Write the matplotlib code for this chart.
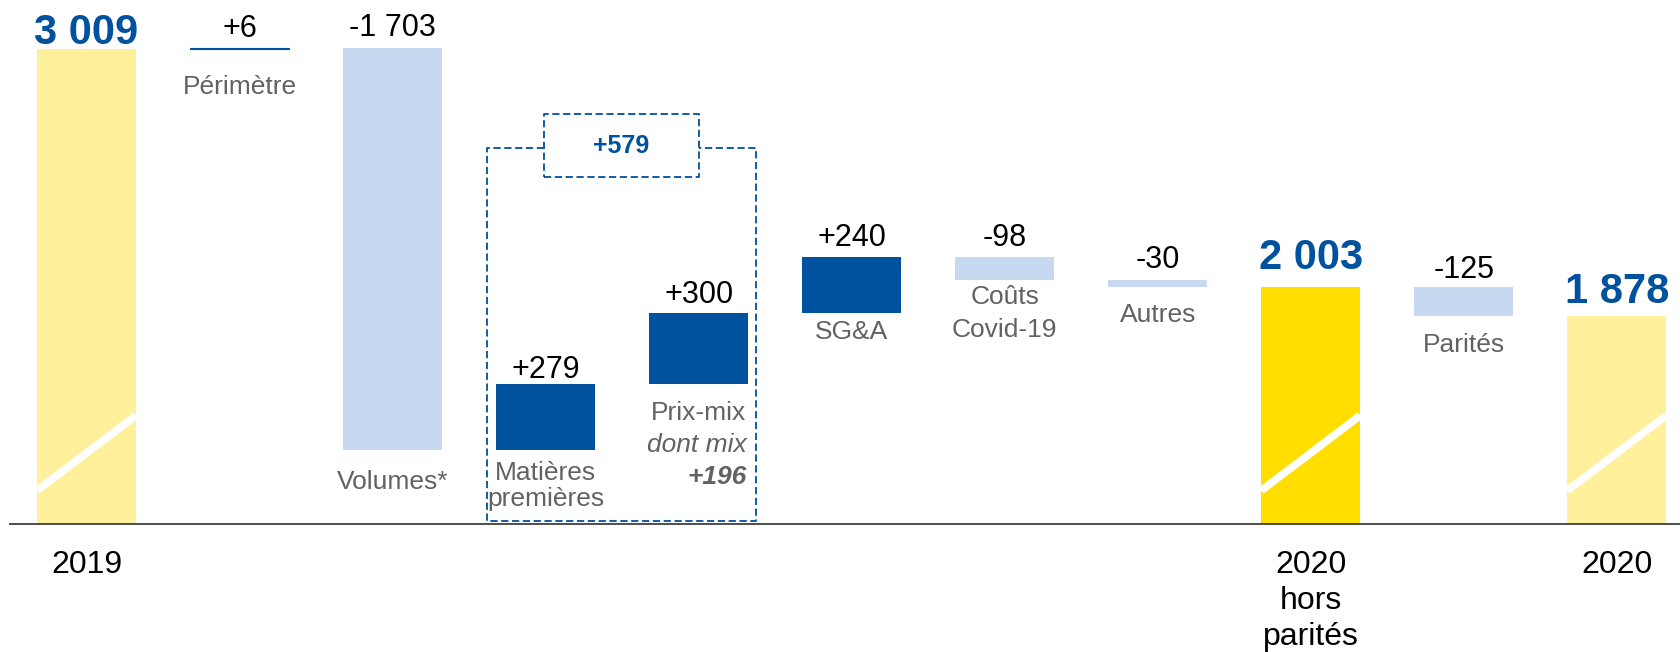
import matplotlib
matplotlib.use("Agg")
import matplotlib.pyplot as plt

plt.rcParams['font.family'] = ['Liberation Sans', 'DejaVu Sans']

# --- data ---
start_value = 3009
step_names = [["Périmètre"], ["Volumes*"], ["Matières", "premières"], ["Prix-mix"],
              ["SG&A"], ["Coûts", "Covid-19"], ["Autres"]]
step_values = [6, -1703, 279, 300, 240, -98, -30]
subtotal_value = 2003
fx_name = ["Parités"]
fx_value = -125
end_value = 1878
year_labels = [["2019"], ["2020", "hors", "parités"], ["2020"]]
mix_note = ["dont mix", "+196"]
group_value = 579

# --- style ---
LIGHT_YELLOW = "#FFF09B"
YELLOW = "#FFDE00"
DARK_BLUE = "#00519E"
LIGHT_BLUE = "#C6D9F0"
GRAY = "#626262"
FLOOR = 1000
W = 0.647

kinds = ["total"] + ["step"] * len(step_values) + ["total", "step", "total"]
values = [start_value] + step_values + [subtotal_value, fx_value, end_value]
names = [None] + step_names + [None, fx_name, None]
total_colors = [LIGHT_YELLOW, YELLOW, LIGHT_YELLOW]

# pixel gaps for labels (value above bar, category baseline below bar, line step)
value_gap = [5, 11, 12, 6, 10, 11, 11, 12, 18, 9, 13]
name_gap = [0, 45, 39, 30, 36, 26, 24, 35, 0, 36, 0]
name_step = [0, 0, 0, 26, 32, 0, 33, 0, 0, 0, 0]

fig = plt.figure(figsize=(16.81, 6.52), dpi=100)
ax = fig.add_axes([0, 0, 1, 1])
ax.set_xlim(-0.565, 10.42)
ax.set_ylim(456, 3218.4)
ax.axis("off")


def fmt(v, sign):
    s = f"{v:+,}" if sign else f"{v:,}"
    return s.replace(",", " ")


running = 0
t = 0
for i, (kind, v) in enumerate(zip(kinds, values)):
    if kind == "total":
        bottom, top = FLOOR, v
        running = v
        color = total_colors[t]
        t += 1
    else:
        bottom, top = sorted([running, running + v])
        running += v
        color = DARK_BLUE if v > 0 else LIGHT_BLUE
    bar = ax.bar(i, top - bottom, bottom=bottom, width=W, color=color,
                 edgecolor=color, linewidth=0.8 if abs(v) < 20 else 0, zorder=2)[0]

    if kind == "total":
        # broken-axis slash
        ln, = ax.plot([i - W / 2, i + W / 2], [1140, 1458], color="white", lw=5.5,
                      solid_capstyle="butt", zorder=3)
        ln.set_clip_path(bar)
        ax.annotate(fmt(v, False), (i, top), xytext=(0, value_gap[i]),
                    textcoords="offset pixels", ha="center", va="baseline",
                    fontsize=30, fontweight="bold", color=DARK_BLUE)
    else:
        ax.annotate(fmt(v, True), (i, top), xytext=(0, value_gap[i]),
                    textcoords="offset pixels", ha="center", va="baseline",
                    fontsize=22, color="black")
        for k, line in enumerate(names[i]):
            ax.annotate(line, (i, bottom), xytext=(0, -name_gap[i] - k * name_step[i]),
                        textcoords="offset pixels", ha="center", va="baseline",
                        fontsize=19, color=GRAY)

# "dont mix +196" under Prix-mix, right aligned to bar edge
px = 4
pbottom = start_value + sum(step_values[:3])
for k, (line, weight) in enumerate(zip(mix_note, ["normal", "bold"])):
    ax.annotate(line, (px + W / 2, pbottom), xytext=(-1, -name_gap[px] - (k + 1) * name_step[px]),
                textcoords="offset pixels", ha="right", va="baseline",
                fontsize=19, color=GRAY, fontstyle="italic", fontweight=weight)

# year labels below axis
for i, lines in zip([0, 8, 10], year_labels):
    for k, line in enumerate(lines):
        ax.annotate(line, (i, FLOOR), xytext=(0, -49 - 36 * k), textcoords="offset pixels",
                    ha="center", va="baseline", fontsize=23, color="black")

# axis line
ax.plot([-0.5, 10.42], [FLOOR, FLOOR], color="#404040", lw=1.3, zorder=4)

# dashed grouping box around Matières premières + Prix-mix
dash = dict(color=DARK_BLUE, lw=1.3, linestyle=(0, (4, 2)), zorder=3)
left, right = 3 - W / 2 - 0.06, 4 + W / 2 + 0.05
otop, obot = 2591, 1011
sl, sr, stop, sbot = 2.99, 4.0, 2735, 2468
ax.plot([sl, left, left, right, right, sr], [otop, otop, obot, obot, otop, otop], **dash)
ax.plot([sl, sr, sr, sl, sl], [sbot, sbot, stop, stop, sbot], **dash)
ax.text((sl + sr) / 2, (sbot + stop) / 2, f"+{group_value}", ha="center", va="center",
        fontsize=18, fontweight="bold", color=DARK_BLUE)

fig.savefig("out.png", dpi=100)
